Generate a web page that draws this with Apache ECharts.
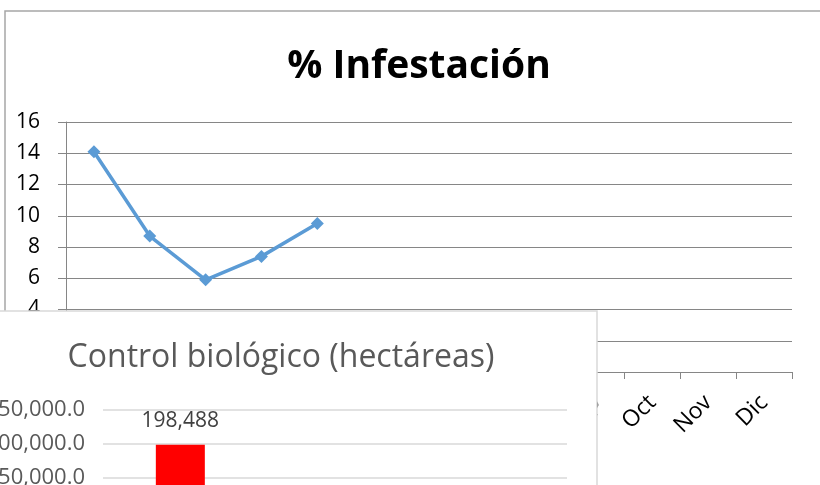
<!DOCTYPE html>
<html>
<head>
<meta charset="utf-8">
<script src="https://cdn.jsdelivr.net/npm/echarts@6/dist/echarts.min.js"></script>
<style>
html,body{margin:0;padding:0;background:#fff;}
#chart{width:820px;height:485px;}
</style>
</head>
<body>
<div id="chart"></div>
<script>
// Line chart: % Infestación
const months = ['Dic 14', 'Ene', 'Feb', 'Mar', 'Abr', 'May', 'Jun', 'Jul', 'Ago', 'Sep', 'Oct', 'Nov', 'Dic'];
const infestacion = [14.1, 8.7, 5.9, 7.4, 9.5, null, null, null, null, null, null, null, null];
const infestTicks = [0, 2, 4, 6, 8, 10, 12, 14, 16];

// Bar chart: Control biológico (hectáreas)
const controlCats = ['2015', '2016', '2017'];
const controlBiologico = [198488, null, null];
const controlTicks = [0, 50000, 100000, 150000, 200000, 250000];

const FONT = '"Open Sans", "Noto Sans", sans-serif';
const chart = echarts.init(document.getElementById('chart'), null, {renderer: 'canvas'});

const option = {
  backgroundColor: '#ffffff',
  animation: false,
  title: [
    {
      text: '% Infestación',
      left: 414, top: 62, textAlign: 'center', textVerticalAlign: 'middle',
      textStyle: {fontFamily: FONT, fontSize: 39, fontWeight: 'bold', color: '#000000'}
    },
    {
      text: 'Control biológico (hectáreas)',
      left: 276, top: 353, textAlign: 'center', textVerticalAlign: 'middle', z: 60,
      textStyle: {fontFamily: FONT, fontSize: 32, fontWeight: 'normal', color: '#595959'}
    }
  ],
  graphic: [
    {
      type: 'rect', z: 0, silent: true,
      shape: {x: 5, y: 11, width: 900, height: 600},
      style: {fill: 'none', stroke: '#a6a6a6', lineWidth: 1.5}
    },
    {
      type: 'rect', z: 50, silent: true,
      shape: {x: -20, y: 311, width: 617, height: 300},
      style: {fill: '#ffffff', stroke: '#d9d9d9', lineWidth: 1.5}
    }
  ],
  grid: [
    {left: 66, top: 122, width: 726, height: 250, outerBoundsMode: 'none', containLabel: false},
    {left: 103, top: 410, width: 464, height: 168.5, outerBoundsMode: 'none', containLabel: false}
  ],
  xAxis: [
    {
      type: 'category', gridIndex: 0, data: months, boundaryGap: true,
      axisLine: {show: true, lineStyle: {color: '#868686', width: 1}},
      axisTick: {show: true, length: 7, lineStyle: {color: '#868686'}},
      axisLabel: {interval: 0, rotate: 45, margin: 27, fontFamily: FONT, fontSize: 23, color: '#000000'},
      splitLine: {show: false}
    },
    {
      type: 'category', gridIndex: 1, data: controlCats, z: 60,
      axisLine: {show: true, lineStyle: {color: '#d9d9d9'}},
      axisTick: {show: false},
      axisLabel: {fontFamily: FONT, fontSize: 18, color: '#595959'}
    }
  ],
  yAxis: [
    {
      type: 'value', gridIndex: 0, min: infestTicks[0], max: infestTicks[infestTicks.length - 1], interval: 2,
      axisLine: {show: true, lineStyle: {color: '#868686', width: 1}},
      axisTick: {show: true, length: 8, lineStyle: {color: '#868686'}},
      axisLabel: {margin: 26, fontFamily: FONT, fontSize: 21, color: '#000000'},
      splitLine: {show: true, lineStyle: {color: '#868686', width: 1}}
    },
    {
      type: 'value', gridIndex: 1, min: controlTicks[0], max: controlTicks[controlTicks.length - 1], interval: 50000, z: 60,
      axisLine: {show: false},
      axisTick: {show: false},
      axisLabel: {
        margin: 18, fontFamily: FONT, fontSize: 22, color: '#595959',
        formatter: v => v.toLocaleString('en-US', {minimumFractionDigits: 1, maximumFractionDigits: 1})
      },
      splitLine: {show: true, lineStyle: {color: '#d9d9d9', width: 1.5}}
    }
  ],
  series: [
    {
      type: 'line', xAxisIndex: 0, yAxisIndex: 0, data: infestacion, z: 2,
      connectNulls: false,
      lineStyle: {color: '#5b9bd5', width: 3.5},
      itemStyle: {color: '#5b9bd5'},
      symbol: 'diamond', symbolSize: 13, showSymbol: true
    },
    {
      type: 'bar', xAxisIndex: 1, yAxisIndex: 1, data: controlBiologico, z: 60,
      barWidth: 49,
      itemStyle: {color: '#ff0000'},
      label: {
        show: true, position: 'top', distance: 13,
        fontFamily: FONT, fontSize: 21, color: '#404040',
        formatter: p => p.value == null ? '' : Number(p.value).toLocaleString('en-US')
      }
    }
  ]
};
chart.setOption(option);
</script>
</body>
</html>
